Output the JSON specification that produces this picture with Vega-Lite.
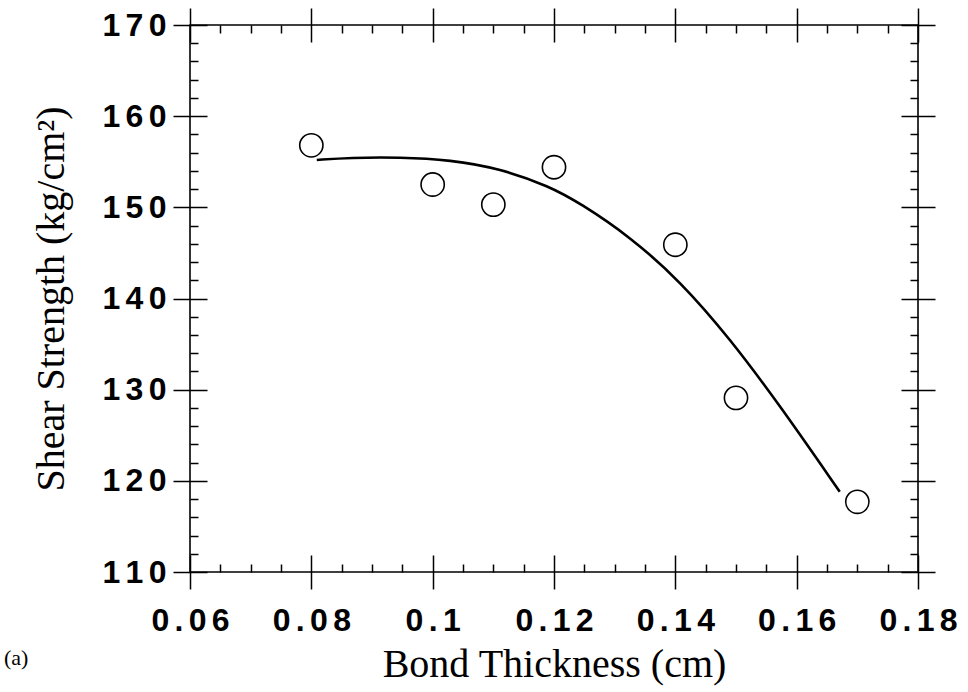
{
  "$schema": "https://vega.github.io/schema/vega-lite/v6.json",
  "autosize": "none",
  "width": 728,
  "height": 547,
  "padding": {"left": 190, "top": 25, "right": 50, "bottom": 120},
  "background": "white",
  "title": {
    "text": "(a)",
    "orient": "bottom",
    "anchor": "start",
    "frame": "group",
    "dx": -186,
    "dy": -40,
    "font": "Liberation Serif",
    "fontSize": 22,
    "fontWeight": "normal",
    "color": "black"
  },
  "config": {
    "view": {"stroke": "black", "strokeWidth": 1.6},
    "axis": {
      "grid": false,
      "domain": false,
      "tickColor": "black",
      "tickWidth": 1.5,
      "labelColor": "black",
      "titleColor": "black",
      "labelFlush": false,
      "labelOverlap": false
    }
  },
  "datasets": {
    "points": [
      {"thickness": 0.08, "strength": 156.8},
      {"thickness": 0.10, "strength": 152.5},
      {"thickness": 0.11, "strength": 150.3},
      {"thickness": 0.12, "strength": 154.4},
      {"thickness": 0.14, "strength": 145.9},
      {"thickness": 0.15, "strength": 129.1},
      {"thickness": 0.17, "strength": 117.7}
    ],
    "curve": [
      {"thickness": 0.0809, "strength": 155.2},
      {"thickness": 0.0864, "strength": 155.45},
      {"thickness": 0.0946, "strength": 155.5},
      {"thickness": 0.1029, "strength": 155.2},
      {"thickness": 0.1111, "strength": 154.25},
      {"thickness": 0.1193, "strength": 152.3},
      {"thickness": 0.1243, "strength": 150.45},
      {"thickness": 0.1325, "strength": 146.8},
      {"thickness": 0.1408, "strength": 141.9},
      {"thickness": 0.1490, "strength": 135.6},
      {"thickness": 0.1573, "strength": 128.2},
      {"thickness": 0.1671, "strength": 118.8}
    ]
  },
  "layer": [
    {
      "data": {"name": "curve"},
      "mark": {"type": "line", "color": "black", "strokeWidth": 2.6, "interpolate": "basis"},
      "encoding": {
        "x": {
          "field": "thickness", "type": "quantitative",
          "scale": {"domain": [0.06, 0.18], "nice": false, "zero": false},
          "axis": {
            "orient": "bottom",
            "values": [0.06, 0.08, 0.1, 0.12, 0.14, 0.16, 0.18],
            "format": "~g",
            "labelExpr": "join(split(datum.label, ''), '\u2006')",
            "tickSize": 34, "offset": -17,
            "labelFont": "Liberation Sans", "labelFontSize": 32, "labelFontWeight": "bold",
            "labelPadding": 16,
            "title": "Bond Thickness (cm)",
            "titleFont": "Liberation Serif", "titleFontSize": 40, "titleFontWeight": "normal",
            "titlePadding": 8
          }
        },
        "y": {
          "field": "strength", "type": "quantitative",
          "scale": {"domain": [110, 170], "nice": false, "zero": false},
          "axis": {
            "orient": "left",
            "values": [110, 120, 130, 140, 150, 160, 170],
            "labelExpr": "join(split(datum.label, ''), '\u2006')",
            "tickSize": 34, "offset": -17,
            "labelFont": "Liberation Sans", "labelFontSize": 32, "labelFontWeight": "bold",
            "labelPadding": 7,
            "title": "Shear Strength (kg/cm²)",
            "titleFont": "Liberation Serif", "titleFontSize": 40, "titleFontWeight": "normal",
            "titlePadding": 30
          }
        }
      }
    },
    {
      "data": {"name": "points"},
      "mark": {"type": "point", "shape": "circle", "size": 540, "filled": false, "color": "black", "strokeWidth": 1.6, "opacity": 1},
      "encoding": {
        "x": {
          "field": "thickness", "type": "quantitative",
          "axis": {
            "orient": "bottom",
            "values": [0.065, 0.07, 0.075, 0.085, 0.09, 0.095, 0.105, 0.11, 0.115, 0.125, 0.13, 0.135, 0.145, 0.15, 0.155, 0.165, 0.17, 0.175],
            "tickSize": 8, "offset": -8, "labels": false, "title": null
          }
        },
        "y": {
          "field": "strength", "type": "quantitative",
          "axis": {
            "orient": "left",
            "values": [112, 114, 116, 118, 122, 124, 126, 128, 132, 134, 136, 138, 142, 144, 146, 148, 152, 154, 156, 158, 162, 164, 166, 168],
            "tickSize": 8, "offset": -8, "labels": false, "title": null
          }
        }
      }
    },
    {
      "data": {"name": "points"},
      "mark": {"type": "point", "opacity": 0},
      "encoding": {
        "x": {
          "field": "thickness", "type": "quantitative",
          "axis": {
            "orient": "top",
            "values": [0.06, 0.08, 0.1, 0.12, 0.14, 0.16, 0.18],
            "tickSize": 34, "offset": -17, "labels": false, "title": null
          }
        },
        "y": {
          "field": "strength", "type": "quantitative",
          "axis": {
            "orient": "right",
            "values": [110, 120, 130, 140, 150, 160, 170],
            "tickSize": 34, "offset": -17, "labels": false, "title": null
          }
        }
      }
    },
    {
      "data": {"name": "points"},
      "mark": {"type": "point", "opacity": 0},
      "encoding": {
        "x": {
          "field": "thickness", "type": "quantitative",
          "axis": {
            "orient": "top",
            "values": [0.065, 0.07, 0.075, 0.085, 0.09, 0.095, 0.105, 0.11, 0.115, 0.125, 0.13, 0.135, 0.145, 0.15, 0.155, 0.165, 0.17, 0.175],
            "tickSize": 8, "offset": -8, "labels": false, "title": null
          }
        },
        "y": {
          "field": "strength", "type": "quantitative",
          "axis": {
            "orient": "right",
            "values": [112, 114, 116, 118, 122, 124, 126, 128, 132, 134, 136, 138, 142, 144, 146, 148, 152, 154, 156, 158, 162, 164, 166, 168],
            "tickSize": 8, "offset": -8, "labels": false, "title": null
          }
        }
      }
    }
  ],
  "resolve": {"axis": {"x": "independent", "y": "independent"}}
}
